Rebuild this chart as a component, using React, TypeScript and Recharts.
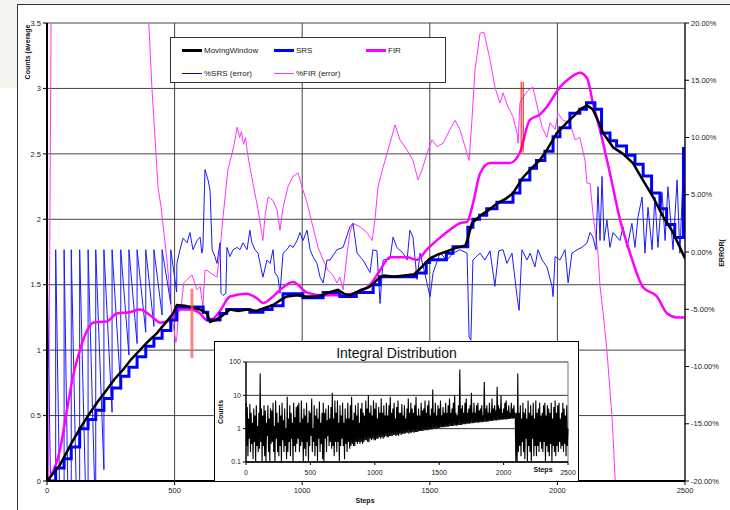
import React from "react";
import {
  ComposedChart,
  LineChart,
  Line,
  XAxis,
  YAxis,
  CartesianGrid,
  ReferenceLine,
} from "recharts";

const FONT = '"Liberation Sans", Arial, Helvetica, sans-serif';

const STEP_TICKS = [0, 500, 1000, 1500, 2000, 2500];
const COUNT_TICKS = [0, 0.5, 1, 1.5, 2, 2.5, 3, 3.5];
const ERROR_TICKS = [-0.2, -0.15, -0.1, -0.05, 0, 0.05, 0.1, 0.15, 0.2];
const INSET_TICKS = [0.1, 1, 10, 100];

// [step, counts]
const movingWindow: [number, number][] = [
  [0, 0], [50, 0.12], [102, 0.31], [135, 0.42], [168, 0.52], [200, 0.61], [235, 0.7],
  [265, 0.78], [298, 0.85], [330, 0.93], [364, 1.0], [398, 1.07], [431, 1.13], [465, 1.21],
  [494, 1.28], [509, 1.345], [540, 1.34], [560, 1.33], [600, 1.31], [627, 1.28], [639, 1.215],
  [660, 1.23], [678, 1.25], [717, 1.31], [750, 1.3], [784, 1.31], [820, 1.3], [850, 1.32],
  [886, 1.345], [913, 1.38], [940, 1.41], [980, 1.42], [1010, 1.41], [1050, 1.41], [1080, 1.42],
  [1100, 1.44], [1140, 1.46], [1165, 1.43], [1190, 1.42], [1230, 1.46], [1260, 1.48],
  [1280, 1.51], [1300, 1.55], [1320, 1.57], [1360, 1.56], [1400, 1.57], [1440, 1.58],
  [1460, 1.62], [1480, 1.66], [1500, 1.7], [1530, 1.73], [1560, 1.75], [1600, 1.78],
  [1640, 1.8], [1650, 1.86], [1665, 1.97], [1700, 2.03], [1730, 2.07], [1763, 2.12],
  [1800, 2.16], [1826, 2.2], [1865, 2.32], [1904, 2.4], [1930, 2.45], [1959, 2.53],
  [1998, 2.66], [2038, 2.74], [2070, 2.8], [2088, 2.84], [2116, 2.87], [2139, 2.84],
  [2160, 2.75], [2179, 2.66], [2218, 2.55], [2257, 2.5], [2296, 2.43], [2335, 2.3],
  [2375, 2.17], [2414, 2.02], [2453, 1.9], [2500, 1.7],
];

// [step where the level starts, counts]
const srs: [number, number][] = [
  [0, 0], [34, 0.1], [67, 0.17], [95, 0.26], [128, 0.4], [161, 0.47], [191, 0.54],
  [223, 0.63], [255, 0.71], [289, 0.8], [321, 0.87], [353, 0.95], [387, 1.03], [419, 1.09],
  [451, 1.15], [485, 1.23], [508, 1.33], [612, 1.29], [630, 1.23], [678, 1.28], [704, 1.31],
  [795, 1.29], [846, 1.31], [882, 1.34], [925, 1.43], [1003, 1.4], [1082, 1.44], [1147, 1.41],
  [1212, 1.44], [1278, 1.5], [1304, 1.56], [1447, 1.59], [1486, 1.67], [1499, 1.69],
  [1565, 1.74], [1591, 1.79], [1649, 1.94], [1669, 2.0], [1695, 2.03], [1723, 2.08],
  [1763, 2.13], [1826, 2.2], [1853, 2.3], [1892, 2.39], [1918, 2.45], [1951, 2.52],
  [1983, 2.63], [2010, 2.7], [2049, 2.81], [2088, 2.84], [2114, 2.89], [2147, 2.84],
  [2173, 2.66], [2206, 2.6], [2232, 2.56], [2271, 2.49], [2304, 2.42], [2336, 2.33],
  [2369, 2.2], [2402, 2.08], [2428, 1.96], [2460, 1.86], [2494, 2.54], [2500, 2.54],
];

const fir: [number, number][] = [
  [0, 0], [12, 0.03], [51, 0.24], [78, 0.54], [102, 0.8], [129, 1.0], [157, 1.15],
  [180, 1.21], [235, 1.22], [274, 1.28], [325, 1.29], [364, 1.31], [415, 1.25], [443, 1.21],
  [482, 1.23], [521, 1.31], [560, 1.31], [600, 1.28], [626, 1.23], [650, 1.24], [678, 1.3],
  [717, 1.41], [782, 1.43], [820, 1.4], [848, 1.36], [880, 1.4], [913, 1.46], [964, 1.52],
  [1019, 1.44], [1082, 1.42], [1148, 1.42], [1215, 1.44], [1266, 1.5], [1305, 1.61],
  [1344, 1.71], [1411, 1.71], [1450, 1.69], [1489, 1.77], [1540, 1.86], [1579, 1.92],
  [1618, 1.97], [1646, 1.98], [1669, 2.12], [1697, 2.35], [1736, 2.43], [1814, 2.43],
  [1853, 2.51], [1892, 2.76], [1931, 2.8], [1959, 2.86], [2010, 3.01], [2049, 3.08],
  [2088, 3.12], [2116, 3.08], [2139, 2.89], [2167, 2.68], [2206, 2.35], [2245, 2.0],
  [2285, 1.74], [2336, 1.48], [2390, 1.41], [2430, 1.28], [2469, 1.25], [2500, 1.25],
];

// [step, relative error]
const srsError: [number, number][] = [
  [0, -0.5], [0, 0.002], [34, -0.5], [34, 0.002], [67, -0.45], [67, 0.002],
  [95, -0.4], [95, 0.002], [128, -0.35], [128, 0.002], [161, -0.3], [161, 0.002],
  [191, -0.24], [191, 0.002], [223, -0.19], [223, 0.002], [255, -0.14], [255, 0.002],
  [289, -0.12], [289, 0.002], [321, -0.09], [321, 0.002], [353, -0.08], [353, 0.002],
  [387, -0.07], [387, 0.002], [419, -0.065], [419, 0.002], [451, -0.055], [451, 0.002],
  [485, -0.045], [485, 0.002], [508, -0.035], [509, -0.01], [521, 0.002], [533, 0.012],
  [549, 0.008], [560, 0.017], [572, 0.002], [588, 0.01], [600, 0.013], [607, -0.001],
  [611, 0.004], [619, 0.072], [631, 0.063], [639, 0.054], [647, 0.002], [658, -0.004],
  [666, -0.01], [678, 0.008], [682, -0.036], [690, -0.038], [701, -0.036], [705, 0.004],
  [717, -0.004], [729, 0.002], [745, 0.004], [756, 0.002], [768, 0.008], [784, 0.002],
  [795, 0.019], [803, 0.008], [815, 0.002], [827, -0.001], [835, -0.01], [846, -0.022],
  [862, -0.007], [874, -0.01], [886, 0.002], [893, -0.018], [905, -0.022], [913, -0.036],
  [925, -0.001], [940, 0.002], [952, 0.006], [964, 0.004], [980, 0.01], [991, 0.017],
  [1003, 0.01], [1019, 0.019], [1031, 0.002], [1042, -0.004], [1058, -0.01], [1070, -0.022],
  [1082, -0.027], [1097, -0.007], [1109, -0.007], [1136, 0.002], [1160, 0.004], [1187, 0.022],
  [1199, 0.025], [1215, -0.001], [1238, -0.007], [1266, -0.018], [1277, 0.002], [1293, 0.001],
  [1305, -0.045], [1317, -0.007], [1344, -0.006], [1356, 0.013], [1371, 0.004], [1395, -0.001],
  [1411, -0.007], [1422, 0.019], [1434, 0.013], [1450, -0.024], [1462, -0.001], [1489, -0.027],
  [1501, -0.039], [1513, -0.018], [1540, -0.001], [1567, -0.007], [1591, -0.001], [1618, 0.002],
  [1646, -0.001], [1654, -0.074], [1661, -0.077], [1669, -0.007], [1697, -0.001], [1716, -0.007],
  [1736, 0.001], [1755, -0.03], [1770, 0.001], [1787, 0.002], [1802, -0.01], [1822, -0.001],
  [1842, -0.039], [1850, -0.051], [1861, 0.002], [1881, -0.007], [1893, -0.001], [1912, -0.013],
  [1924, 0.002], [1940, -0.007], [1959, -0.013], [1979, -0.03], [1983, -0.039], [1991, -0.004],
  [2010, -0.007], [2030, 0.002], [2042, -0.027], [2057, -0.001], [2077, 0.002], [2096, 0.004],
  [2116, 0.008], [2128, 0.017], [2139, 0.013], [2151, 0.002], [2159, 0.057], [2167, 0.01],
  [2175, 0.066], [2183, 0.01], [2194, 0.028], [2206, 0.004], [2218, 0.017], [2245, 0.01],
  [2257, 0.022], [2273, 0.004], [2292, 0.025], [2304, 0.004], [2316, 0.031], [2332, 0.048],
  [2343, -0.001], [2355, 0.039], [2371, 0.002], [2382, 0.048], [2394, 0.004], [2410, 0.052],
  [2422, 0.01], [2433, 0.057], [2453, 0.002], [2469, 0.063], [2480, -0.001], [2492, 0.066],
  [2496, 0.092],
];

const firError: [number, number][] = [
  [0, -0.4], [24, 0.5], [390, 0.5], [398, 0.203], [411, 0.144], [427, 0.086], [435, 0.057],
  [447, 0.039], [458, 0.017], [470, -0.007], [490, -0.057], [505, -0.079], [509, -0.074],
  [515, -0.054], [525, -0.048], [536, -0.027], [549, -0.024], [568, -0.02], [588, -0.033],
  [600, -0.03], [611, -0.048], [619, -0.016], [627, -0.016], [639, -0.018], [666, -0.022],
  [678, 0.002], [690, 0.031], [709, 0.072], [725, 0.086], [735, 0.096], [745, 0.109],
  [755, 0.1], [762, 0.105], [770, 0.094], [778, 0.1], [784, 0.089], [795, 0.074], [807, 0.06],
  [827, 0.037], [846, 0.01], [854, 0.031], [866, 0.048], [886, 0.045], [901, 0.037],
  [913, 0.019], [925, 0.039], [944, 0.057], [964, 0.066], [984, 0.069], [999, 0.057],
  [1019, 0.043], [1042, 0.022], [1062, 0.004], [1082, -0.007], [1101, -0.016], [1120, -0.02],
  [1136, -0.027], [1148, -0.022], [1160, -0.033], [1176, -0.001], [1187, 0.017], [1199, 0.025],
  [1227, 0.022], [1254, 0.017], [1274, 0.01], [1285, 0.028], [1297, 0.057], [1317, 0.074],
  [1344, 0.095], [1364, 0.111], [1383, 0.098], [1411, 0.089], [1434, 0.08], [1454, 0.063],
  [1470, 0.072], [1489, 0.086], [1509, 0.098], [1528, 0.092], [1552, 0.095], [1579, 0.107],
  [1599, 0.115], [1618, 0.107], [1638, 0.092], [1654, 0.08], [1665, 0.115], [1677, 0.159],
  [1697, 0.191], [1712, 0.192], [1736, 0.168], [1755, 0.144], [1775, 0.13], [1787, 0.139],
  [1806, 0.127], [1826, 0.118], [1842, 0.104], [1846, 0.095], [1853, 0.13], [1865, 0.135],
  [1885, 0.141], [1904, 0.144], [1924, 0.124], [1940, 0.109], [1959, 0.1], [1971, 0.113],
  [1991, 0.107], [2002, 0.121], [2022, 0.115], [2049, 0.113], [2069, 0.098], [2088, 0.1],
  [2108, 0.08], [2116, 0.06], [2128, 0.06], [2139, 0.034], [2159, -0.001], [2167, -0.03],
  [2179, -0.053], [2194, -0.086], [2214, -0.144], [2226, -0.197], [2245, -0.28],
];

// integral distribution, one count every INTEGRAL_STEP steps (rows of 50 steps)
const INTEGRAL_STEP = 5;
const integralCounts: number[] = [
  6, 0.3, 4.5, 0.15, 2, 0.5, 5.5, 0.2, 3, 0.35,
  1.5, 0.12, 4, 0.4, 2.5, 0.1, 5, 0.3, 1.2, 0.2,
  3, 0.25, 45, 0.4, 4, 0.1, 2.5, 0.3, 5, 0.15,
  3.5, 0.1, 1.5, 0.6, 5, 0.2, 2, 0.1, 4, 0.35,
  3.5, 0.4, 6, 0.2, 1.2, 0.1, 7, 0.5, 3, 0.2,
  1.5, 0.15, 5, 0.3, 2.5, 0.1, 6, 0.45, 1.8, 0.2,
  4, 0.3, 1, 0.12, 9, 0.2, 2, 0.4, 5, 0.15,
  3, 0.5, 1.5, 0.1, 6, 0.3, 2.2, 0.2, 4.5, 0.35,
  5, 0.5, 6, 0.2, 1.5, 0.3, 7, 0.4, 2, 0.1,
  4, 0.25, 2.5, 0.15, 6, 0.4, 1.5, 0.1, 3.5, 0.3,
  3, 0.6, 8, 0.2, 1, 0.4, 5, 0.15, 2.5, 0.3,
  4, 0.1, 2, 0.5, 6.5, 0.2, 1.5, 0.35, 3, 0.12,
  6, 0.1, 3, 0.5, 4, 0.2, 1.8, 0.6, 5, 0.3,
  2, 0.4, 4.5, 0.25, 12, 0.3, 2, 0.15, 7, 0.4,
  3, 0.2, 7, 0.4, 1.5, 0.1, 5, 0.3, 2.5, 0.5,
  6, 0.3, 1.5, 0.12, 4, 0.35, 2, 0.2, 6, 0.4,
  2, 0.25, 5, 0.3, 9, 0.35, 1.8, 0.3, 3, 0.3,
  5, 0.4, 2.5, 0.35, 6, 0.4, 1.5, 0.35, 4, 0.4,
  6, 0.35, 3, 0.4, 2.5, 0.45, 7, 0.45, 4, 0.4,
  10, 0.4, 3, 0.5, 5, 0.45, 2.5, 0.5, 7, 0.45,
  4, 0.45, 6, 0.5, 2, 0.5, 4.5, 0.55, 3, 0.5,
  8, 0.55, 3, 0.5, 5, 0.55, 2.5, 0.6, 6, 0.55,
  2.5, 0.55, 5, 0.6, 9, 0.6, 3, 0.6, 4, 0.65,
  6, 0.65, 2, 0.6, 4.5, 0.65, 7, 0.6, 3, 0.7,
  3, 0.65, 5.5, 0.7, 2.5, 0.7, 5, 0.7, 2, 0.75,
  4, 0.75, 8, 0.7, 3, 0.75, 6, 0.75, 4, 0.8,
  3, 0.75, 5, 0.8, 9, 0.8, 2.5, 0.8, 4, 0.85,
  2.5, 0.85, 6, 0.85, 3.5, 0.85, 4, 0.9, 7, 0.9,
  3, 0.9, 5, 0.9, 7, 0.95, 2.5, 0.95, 4, 0.95,
  15, 1, 3, 1, 6, 1, 2.5, 1, 5, 1.05,
  4, 1.05, 7, 1.1, 2.5, 1.1, 4.5, 1.1, 3, 1.1,
  6, 1.15, 3, 1.15, 5, 1.15, 8, 1.2, 3, 1.2,
  4, 1.2, 6, 1.2, 10, 1.25, 3, 1.25, 2.5, 1.25,
  5, 1.3, 60, 1.3, 4, 1.3, 5, 1.35, 3, 1.35,
  6, 1.35, 8, 1.4, 3, 1.4, 4, 1.4, 5, 1.45,
  12, 1.45, 3, 1.45, 6, 1.5, 3, 1.5, 5, 1.5,
  6, 1.5, 3.5, 1.55, 4, 1.55, 5, 1.55, 2.5, 1.6,
  25, 1.6, 4, 1.6, 5, 1.65, 3, 1.65, 6, 1.7,
  3, 1.7, 8, 1.7, 4, 1.75, 5, 1.75, 3.5, 1.75,
  18, 1.8, 5, 1.8, 4, 1.85, 10, 1.85, 3, 1.85,
  4, 1.9, 6, 1.9, 7, 1.9, 3.5, 1.95, 5, 1.95,
  3, 2, 6, 2, 4, 2, 5, 2.05, 3, 0.1,
  3, 0.1, 45, 0.2, 3, 0.3, 5, 0.15, 2, 0.4,
  6, 0.2, 3, 0.12, 4, 0.5, 2, 0.1, 7, 0.3,
  3, 0.2, 5, 0.1, 2.5, 0.5, 6, 0.15, 2, 0.3,
  7, 0.15, 3, 0.3, 4, 0.2, 6, 0.4, 2.5, 0.25,
  3, 0.2, 5, 0.4, 6, 0.1, 2.5, 0.3, 5, 0.2,
  4, 0.15, 3, 0.35, 6, 0.1, 2, 0.3, 4.5, 0.2,
  7, 0.15, 3, 0.3, 5, 0.2, 6, 0.4, 2, 0.25,
  3, 0.3, 6, 0.2, 4, 0.35, 2.5, 0.15, 5, 0.3,
  1,
];

const toPoints = (pairs: [number, number][]) => pairs.map(([x, v]) => ({ x, v }));
const integralPoints = integralCounts.map((v, i) => ({ x: i * INTEGRAL_STEP, v }));

const pct = (v: number) => `${(v * 100).toFixed(2)}%`;

const tickStyle = { fontSize: 7.5, fill: "#222", fontFamily: FONT };
const insetTick = { fontSize: 7, fill: "#222", fontFamily: FONT };

const axisTitle: React.CSSProperties = {
  position: "absolute",
  fontFamily: FONT,
  fontSize: 7,
  fontWeight: "bold",
  color: "#111",
  whiteSpace: "nowrap",
};

const legendItems = [
  { name: "MovingWindow", color: "#000", width: 3, left: 11, top: 12 },
  { name: "SRS", color: "#0000ff", width: 3, left: 103, top: 12 },
  { name: "FIR", color: "#ff00ff", width: 3, left: 195, top: 12 },
  { name: "%SRS (error)", color: "#0000ff", width: 1, left: 11, top: 35 },
  { name: "%FIR (error)", color: "#ff33ff", width: 1, left: 103, top: 35 },
];

const ChartLegend = () => (
  <div
    style={{
      position: "absolute",
      left: 170,
      top: 37,
      width: 276,
      height: 46,
      boxSizing: "border-box",
      background: "#fff",
      border: "1px solid #333",
      fontFamily: FONT,
      fontSize: 8,
      color: "#222",
    }}
  >
    {legendItems.map((item) => (
      <div key={item.name} style={{ position: "absolute", left: item.left, top: item.top - 5, height: 10, display: "flex", alignItems: "center" }}>
        <div style={{ width: 20, height: item.width, background: item.color, marginRight: 2 }} />
        <span>{item.name}</span>
      </div>
    ))}
  </div>
);

const IntegralInset = () => (
  <div
    style={{
      position: "absolute",
      left: 214,
      top: 341,
      width: 365,
      height: 141,
      boxSizing: "border-box",
      background: "#fff",
      border: "1px solid #000",
    }}
  >
    <div
      style={{
        position: "absolute",
        left: 0,
        width: 363,
        top: 3,
        textAlign: "center",
        fontFamily: FONT,
        fontSize: 14,
        color: "#111",
      }}
    >
      Integral Distribution
    </div>
    <LineChart width={363} height={139} data={integralPoints} margin={{ top: 20, right: 10, bottom: 0, left: 0 }}>
      <CartesianGrid vertical={false} stroke="#333" />
      <XAxis
        dataKey="x"
        type="number"
        domain={[0, 2500]}
        ticks={STEP_TICKS}
        interval={0}
        height={19}
        tickSize={3}
        tickMargin={5}
        tick={insetTick}
        axisLine={{ stroke: "#000", strokeWidth: 1.5 }}
        tickLine={{ stroke: "#000" }}
      />
      <YAxis
        scale="log"
        domain={[0.1, 100]}
        ticks={INSET_TICKS}
        interval={0}
        allowDataOverflow
        width={31}
        tickSize={3}
        tickMargin={2}
        tick={insetTick}
        tickFormatter={(v: number) => String(v)}
        axisLine={{ stroke: "#000", strokeWidth: 1.5 }}
        tickLine={{ stroke: "#000" }}
      />
      <ReferenceLine x={2500} stroke="#777" />
      <Line dataKey="v" stroke="#000" strokeWidth={1.1} dot={false} activeDot={false} isAnimationActive={false} />
    </LineChart>
    <div style={{ ...axisTitle, left: 5, top: 70, transform: "translate(-50%, -50%) rotate(-90deg)" }}>Counts</div>
    <div style={{ ...axisTitle, left: 328, top: 127, transform: "translate(-50%, -50%)" }}>Steps</div>
  </div>
);

export default function App() {
  return (
    <div style={{ position: "absolute", left: 0, top: 0, width: 730, height: 510, overflow: "hidden", background: "#fff" }}>
      <div style={{ position: "absolute", left: 0, top: 0, width: 730, height: 88, background: "#f4f4ee" }} />
      <div
        style={{
          position: "absolute",
          left: 17,
          top: 4,
          width: 720,
          height: 520,
          background: "#fff",
          borderTop: "1.5px solid #333",
          borderLeft: "1.5px solid #333",
        }}
      />
      <div style={{ position: "absolute", left: 0, top: 0 }}>
        <ComposedChart width={730} height={510} margin={{ top: 23, right: 0, bottom: 0, left: 17 }}>
          <CartesianGrid yAxisId="left" stroke="#444" />
          <XAxis
            dataKey="x"
            type="number"
            domain={[0, 2500]}
            ticks={STEP_TICKS}
            interval={0}
            allowDataOverflow
            height={29}
            tickSize={4}
            tickMargin={3}
            tick={tickStyle}
            axisLine={{ stroke: "#000", strokeWidth: 2 }}
            tickLine={{ stroke: "#000" }}
          />
          <YAxis
            yAxisId="left"
            domain={[0, 3.5]}
            ticks={COUNT_TICKS}
            interval={0}
            allowDataOverflow
            width={30}
            tickSize={4}
            tickMargin={2}
            tick={tickStyle}
            axisLine={{ stroke: "#000", strokeWidth: 2 }}
            tickLine={{ stroke: "#000" }}
          />
          <YAxis
            yAxisId="right"
            orientation="right"
            domain={[-0.2, 0.2]}
            ticks={ERROR_TICKS}
            interval={0}
            allowDataOverflow
            width={45}
            tickSize={4}
            tickMargin={2}
            tick={tickStyle}
            tickFormatter={pct}
            axisLine={{ stroke: "#000" }}
            tickLine={{ stroke: "#000" }}
          />
          <Line yAxisId="right" data={toPoints(firError)} dataKey="v" stroke="#ff33ff" strokeWidth={1} dot={false} activeDot={false} isAnimationActive={false} />
          <Line yAxisId="right" data={toPoints(srsError)} dataKey="v" stroke="#1a1aff" strokeWidth={1} dot={false} activeDot={false} isAnimationActive={false} />
          <Line yAxisId="left" data={toPoints(fir)} dataKey="v" type="monotone" stroke="#ff00ff" strokeWidth={2.5} dot={false} activeDot={false} isAnimationActive={false} />
          <Line yAxisId="left" data={toPoints(srs)} dataKey="v" type="stepAfter" stroke="#0000ff" strokeWidth={3} dot={false} activeDot={false} isAnimationActive={false} />
          <Line yAxisId="left" data={toPoints(movingWindow)} dataKey="v" stroke="#000" strokeWidth={2.5} dot={false} activeDot={false} isAnimationActive={false} />
          <ReferenceLine yAxisId="left" segment={[{ x: 568, y: 0.94 }, { x: 568, y: 1.47 }]} stroke="#ff5a5a" strokeOpacity={0.75} strokeWidth={3} />
          <ReferenceLine yAxisId="left" segment={[{ x: 1858, y: 2.51 }, { x: 1858, y: 3.05 }]} stroke="#ff0000" strokeWidth={1} />
          <ReferenceLine yAxisId="left" segment={[{ x: 1866, y: 2.51 }, { x: 1866, y: 3.05 }]} stroke="#ff0000" strokeWidth={1} />
        </ComposedChart>
      </div>
      <ChartLegend />
      <IntegralInset />
      <div style={{ ...axisTitle, left: 27, top: 52, transform: "translate(-50%, -50%) rotate(-90deg)" }}>Counts (average</div>
      <div style={{ ...axisTitle, left: 721, top: 253, transform: "translate(-50%, -50%) rotate(-90deg)" }}>ERROR(</div>
      <div style={{ ...axisTitle, left: 365, top: 500, transform: "translate(-50%, -50%)" }}>Steps</div>
    </div>
  );
}
